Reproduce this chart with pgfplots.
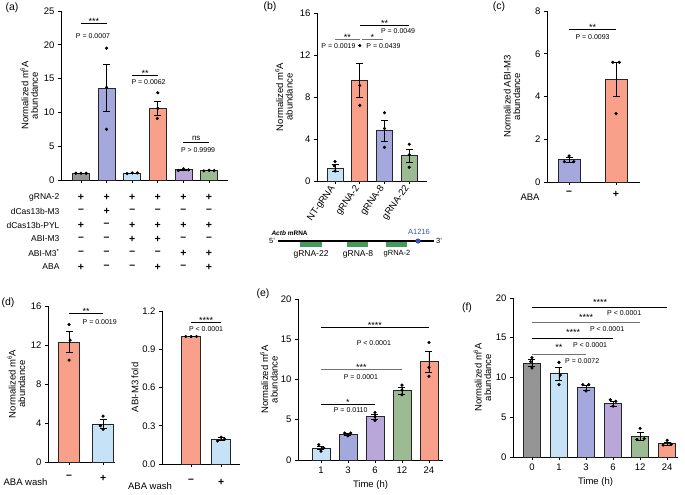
\documentclass[border=0pt]{standalone}
\usepackage{pgfplots}
\pgfplotsset{compat=1.18}
\usepackage{fontspec}
\setmainfont{Liberation Sans}

\definecolor{cGray}{HTML}{959595}
\definecolor{cLB}{HTML}{C6E2F6}
\definecolor{cBP}{HTML}{A4A8DC}
\definecolor{cSal}{HTML}{F9A08B}
\definecolor{cPur}{HTML}{B9A7DA}
\definecolor{cGrn}{HTML}{9DBB93}
\definecolor{cDG}{HTML}{45995A}
\definecolor{cBlue}{HTML}{3A50C0}

\newcommand{\fs}[1]{\fontsize{#1}{#1}\selectfont}
\newcommand{\mA}{m\raisebox{0.75ex}{\fs{6}6}A}

\pgfplotsset{
  pan/.style={anchor=south west, scale only axis, axis x line*=bottom, axis y line*=left,
    ymin=0, clip=false, tick align=outside, major tick length=3pt,
    tick style={black, line width=0.7pt}, axis line style={black, line width=0.8pt},
    ticklabel style={font=\fs{9.5}}, /pgf/number format/assume math mode=true,
    ylabel style={font=\fs{9.5}, align=center, anchor=center},
    xlabel style={font=\fs{9.5}}},
  bx/.style={ybar, bar shift=0pt, draw=black!85, line width=0.7pt,
    error bars/y dir=both, error bars/y explicit,
    error bars/error bar style={black, line width=0.7pt},
    error bars/error mark options={rotate=90, black, line width=0.7pt, mark size=3.5pt}},
  pts/.style={only marks, mark=*, mark size=1.4pt, black},
}
\tikzset{
  sl/.style={line width=0.7pt},
  st/.style={above, inner sep=0pt, yshift=-1.5pt, font=\fs{9}},
  stc/.style={inner sep=0pt, yshift=-2pt, font=\fs{9}},
  pv/.style={inner sep=0pt, font=\fs{7}},
  sg/.style={font=\bfseries\fs{10.5}},
}

\begin{document}
\begin{tikzpicture}
\useasboundingbox (0pt,0pt) rectangle (685pt,-495pt);

\begin{scope}[x=1pt, y=-1pt]
% panel letters
\node[font=\fs{10.5}] at (12,8) {(a)};
\node[font=\fs{10.5}] at (270,7) {(b)};
\node[font=\fs{10.5}] at (499,7) {(c)};
\node[font=\fs{10.5}] at (8,303) {(d)};
\node[font=\fs{10.5}] at (263,294) {(e)};
\node[font=\fs{10.5}] at (467,308) {(f)};

% table under (a)
\begin{scope}[every node/.style={font=\fs{8.5}}]
\node[anchor=east] at (63,197) {gRNA-2};
\node[anchor=east] at (63,211) {dCas13b-M3};
\node[anchor=east] at (63,225) {dCas13b-PYL};
\node[anchor=east] at (63,239) {ABI-M3};
\node[anchor=east] at (63,253) {ABI-M3\textsuperscript{*}};
\node[anchor=east] at (63,267) {ABA};
\end{scope}
\foreach \s [count=\i] in {+,+,+,+,+,+} \node[sg] at ({55.4+25.6*\i},197) {\s};
\foreach \s [count=\i] in {–,+,–,–,–,–} \node[sg] at ({55.4+25.6*\i},211) {\s};
\foreach \s [count=\i] in {+,–,+,+,+,+} \node[sg] at ({55.4+25.6*\i},225) {\s};
\foreach \s [count=\i] in {–,–,+,+,–,–} \node[sg] at ({55.4+25.6*\i},239) {\s};
\foreach \s [count=\i] in {–,–,–,–,+,+} \node[sg] at ({55.4+25.6*\i},253) {\s};
\foreach \s [count=\i] in {+,–,–,+,–,+} \node[sg] at ({55.4+25.6*\i},267) {\s};

% Actb diagram
\fill[cDG] (300,241) rectangle (322,247);
\fill[cDG] (347,241) rectangle (368,247);
\fill[cDG] (386,241) rectangle (407,247);
\draw[line width=1.4pt] (278,241) -- (434,241);
\fill[cBlue] (418,241) circle (2.6);
\node[font=\fs{7.5}] at (272,241) {5'};
\node[font=\fs{7.5}] at (439,241) {3'};
\node[anchor=west, font=\bfseries\fs{6.5}] at (268,233) {\textit{Actb} mRNA};
\node[font=\fs{7.5}, text=cBlue] at (419,232) {A1216};
\node[font=\fs{8.5}] at (311,254) {gRNA-22};
\node[font=\fs{8.5}] at (358,254) {gRNA-8};
\node[font=\fs{7.5}] at (397,254) {gRNA-2};

\node[font=\fs{9.5}] at (530,197) {ABA};
\node[font=\fs{9.5}] at (25.5,482) {ABA wash};
\node[font=\fs{9.5}] at (150,486) {ABA wash};
\end{scope}

% ---------------- (a)
\begin{axis}[pan, at={(61pt,-180pt)}, width=167pt, height=169pt,
  xmin=0.22, xmax=6.74, ymax=25, ytick={0,5,...,25},
  xtick={1,...,6}, xticklabels={}, bar width=0.66,
  ylabel={Normalized \mA\\abundance},
  ylabel style={at={(axis description cs:-0.19,0.5)}}]
\addplot[bx, fill=cGray] coordinates {(1,1.0) +- (0,0.04)};
\addplot[bx, fill=cBP] coordinates {(2,13.6) +- (0,3.45)};
\addplot[bx, fill=cLB] coordinates {(3,1.0) +- (0,0.05)};
\addplot[bx, fill=cSal] coordinates {(4,10.6) +- (0,1.0)};
\addplot[bx, fill=cPur] coordinates {(5,1.52) +- (0,0.08)};
\addplot[bx, fill=cGrn] coordinates {(6,1.4) +- (0,0.04)};
\addplot[pts] coordinates {(0.8,1.0) (1,1.0) (1.2,1.0)
  (2,19.5) (2,13.7) (2,7.5)
  (2.8,0.95) (3,1.05) (3.2,1.05)
  (4,12.9) (4,10.6) (3.98,9.1)
  (4.8,1.4) (5,1.65) (5.2,1.5)
  (5.8,1.35) (6,1.45) (6.2,1.4)};
\draw[sl] (1,23.1) -- node[st] {***} (2,23.1);
\node[pv] at (1.47,21.3) {P = 0.0007};
\draw[sl] (3,15.5) -- node[st] {**} (4,15.5);
\node[pv] at (3.64,14.5) {P = 0.0062};
\draw[sl] (5,5.6) -- node[above, inner sep=1.5pt, font=\fs{8}] {ns} (6,5.6);
\node[pv] at (5.57,4.44) {P > 0.9999};
\end{axis}

% ---------------- (b)
\begin{axis}[pan, at={(317pt,-181pt)}, width=110pt, height=168pt,
  xmin=0.27, xmax=4.72, ymax=16, ytick={0,4,...,16},
  xtick={1,...,4}, xticklabels={NT-gRNA,gRNA-2,gRNA-8,gRNA-22},
  xticklabel style={rotate=55, anchor=east, font=\fs{9.5}},
  bar width=0.65,
  ylabel={Normalized \mA\\abundance},
  ylabel style={at={(axis description cs:-0.30,0.5)}}]
\addplot[bx, fill=cLB] coordinates {(1,1.25) +- (0,0.35)};
\addplot[bx, fill=cSal] coordinates {(2,9.6) +- (0,1.65)};
\addplot[bx, fill=cBP] coordinates {(3,4.8) +- (0,1.0)};
\addplot[bx, fill=cGrn] coordinates {(4,2.4) +- (0,0.65)};
\addplot[pts] coordinates {(1,1.85) (0.97,1.45) (1,0.95)
  (2,12.9) (2,9.1) (2,7.2)
  (3,6.5) (3,5.0) (3,3.2)
  (4,3.5) (4,2.5) (4,1.3)};
\draw[sl, draw=black!55] (1,13.5) -- node[st] {**} (2,13.5);
\node[pv] at (1.14,12.86) {P = 0.0019};
\draw[sl, draw=black!55] (2.09,13.5) -- node[st] {*} (2.94,13.5);
\node[pv] at (2.96,12.86) {P = 0.0439};
\draw[sl] (2.01,14.86) -- node[st] {**} (4,14.86);
\node[pv] at (3.55,14.3) {P = 0.0049};
\end{axis}

% ---------------- (c)
\begin{axis}[pan, at={(547pt,-182pt)}, width=93pt, height=171pt,
  xmin=0.53, xmax=2.51, ymax=8, ytick={0,2,...,8},
  xtick={1,2}, xticklabels={–,+}, xticklabel style={font=\bfseries\fs{10.5}, yshift=-3pt},
  bar width=0.47,
  ylabel={Normalized ABI-M3\\abundance},
  ylabel style={at={(axis description cs:-0.376,0.5)}}]
\addplot[bx, fill=cBP] coordinates {(1,1.05) +- (0,0.12)};
\addplot[bx, fill=cSal] coordinates {(2,4.8) +- (0,0.8)};
\addplot[pts] coordinates {(0.9,0.95) (1,1.22) (1.1,0.95)
  (1.93,5.6) (2.07,5.6) (2,3.2)};
\draw[sl] (1,7.15) -- node[st] {**} (2,7.15);
\node[pv] at (1.5,6.78) {P = 0.0093};
\end{axis}

% ---------------- (d) left
\begin{axis}[pan, at={(48pt,-462pt)}, width=67pt, height=156pt,
  xmin=0.38, xmax=2.35, ymax=16, ytick={0,4,...,16},
  xtick={1,2}, xticklabels={–,+}, xticklabel style={font=\bfseries\fs{10.5}, yshift=-7pt},
  bar width=0.62,
  ylabel={Normalized \mA\\abundance},
  ylabel style={at={(axis description cs:-0.47,0.5)}}]
\addplot[bx, fill=cSal] coordinates {(1,12.3) +- (0,1.05)};
\addplot[bx, fill=cLB] coordinates {(2,3.9) +- (0,0.45)};
\addplot[pts] coordinates {(1,14.1) (1.03,12.5) (1,10.45)
  (2,4.7) (1.92,3.72) (2,3.35)};
\draw[sl] (1,15.2) -- node[st] {**} (2,15.2);
\node[pv] at (1.9,14.36) {P = 0.0019};
\end{axis}

% ---------------- (d) right
\begin{axis}[pan, at={(162pt,-464pt)}, width=78pt, height=153pt,
  xmin=0.03, xmax=2.63, ymax=1.2, ytick={0,0.3,...,1.2},
  yticklabel style={/pgf/number format/fixed, /pgf/number format/fixed zerofill,
    /pgf/number format/precision=1},
  xtick={1,2}, xticklabels={–,+}, xticklabel style={font=\bfseries\fs{10.5}, yshift=-9pt},
  bar width=0.63,
  ylabel={ABI-M3 fold},
  ylabel style={at={(axis description cs:-0.346,0.5)}}]
\addplot[bx, fill=cSal] coordinates {(1,1.0) +- (0,0.002)};
\addplot[bx, fill=cLB] coordinates {(2,0.195) +- (0,0.012)};
\addplot[pts] coordinates {(0.82,1.0) (1,1.0) (1.18,1.0)
  (1.88,0.18) (2,0.21) (2.12,0.195)};
\draw[sl] (1,1.11) -- node[st] {****} (2,1.11);
\node[pv] at (1.5,1.06) {P < 0.0001};
\end{axis}

% ---------------- (e)
\begin{axis}[pan, at={(298pt,-460pt)}, width=145pt, height=161pt,
  xmin=0.15, xmax=5.52, ymax=20, ytick={0,5,...,20},
  xtick={1,...,5}, xticklabels={1,3,6,12,24},
  bar width=0.67, xlabel={Time (h)},
  ylabel={Normalized \mA\\abundance},
  ylabel style={at={(axis description cs:-0.20,0.5)}}]
\addplot[bx, fill=cLB] coordinates {(1,1.5) +- (0,0.22)};
\addplot[bx, fill=cBP] coordinates {(2,3.2) +- (0,0.13)};
\addplot[bx, fill=cPur] coordinates {(3,5.4) +- (0,0.3)};
\addplot[bx, fill=cGrn] coordinates {(4,8.6) +- (0,0.45)};
\addplot[bx, fill=cSal] coordinates {(5,12.2) +- (0,1.25)};
\addplot[pts] coordinates {(0.92,1.9) (1.1,1.5) (1,1.1)
  (1.88,3.35) (2.1,3.35) (2,3.0)
  (3,5.9) (3,5.4) (3,4.9)
  (4,9.3) (4,8.7) (4,8.1)
  (5,14.6) (5,11.5) (5,10.4)};
\draw[sl] (1,6.96) -- node[st] {*} (3,6.96);
\node[pv] at (2.1,6.2) {P = 0.0110};
\draw[sl, draw=black!55] (1,11.3) -- node[st] {***} (4,11.3);
\node[pv] at (2.48,10.35) {P = 0.0001};
\draw[sl] (1,16.5) -- node[st] {****} (5,16.5);
\node[pv] at (2.96,14.57) {P < 0.0001};
\end{axis}

% ---------------- (f)
\begin{axis}[pan, at={(513pt,-457pt)}, width=165pt, height=159pt,
  xmin=0.3, xmax=6.4, ymax=20, ytick={0,5,...,20},
  xtick={1,...,6}, xticklabels={0,1,3,6,12,24},
  bar width=0.63, xlabel={Time (h)},
  ylabel={Normalized \mA\\abundance},
  ylabel style={at={(axis description cs:-0.185,0.5)}}]
\addplot[bx, fill=cGray] coordinates {(1,11.8) +- (0,0.45)};
\addplot[bx, fill=cLB] coordinates {(2,10.5) +- (0,0.8)};
\addplot[bx, fill=cBP] coordinates {(3,8.7) +- (0,0.3)};
\addplot[bx, fill=cPur] coordinates {(4,6.7) +- (0,0.3)};
\addplot[bx, fill=cGrn] coordinates {(5,2.6) +- (0,0.5)};
\addplot[bx, fill=cSal] coordinates {(6,1.7) +- (0,0.2)};
\addplot[pts] coordinates {(1,12.5) (0.95,12.0) (1,11.2)
  (2,11.9) (2.05,10.3) (2,9.1)
  (2.88,9.1) (3.1,9.1) (3,8.3)
  (3.9,7.2) (4.1,7.0) (4,6.4)
  (5,3.6) (4.88,2.2) (5.15,2.3)
  (6,2.1) (5.85,1.5) (6.15,1.6)};
\draw[sl] (1,18.83) -- (6,18.83);
\node[stc] at (3.52,19.75) {****};
\node[pv] at (4.41,18.1) {P < 0.0001};
\draw[sl, draw=black!55] (1,16.9) -- (5,16.9);
\node[stc] at (3.0,17.86) {****};
\node[pv] at (3.78,16.1) {P < 0.0001};
\draw[sl] (1,14.9) -- (4,14.9);
\node[stc] at (2.52,15.9) {****};
\node[pv] at (3.15,14.1) {P < 0.0001};
\draw[sl, draw=black!55] (1,12.96) -- (3,12.96);
\node[stc] at (2.0,14.0) {**};
\node[pv] at (2.86,12.1) {P = 0.0072};
\end{axis}
\end{tikzpicture}
\end{document}
